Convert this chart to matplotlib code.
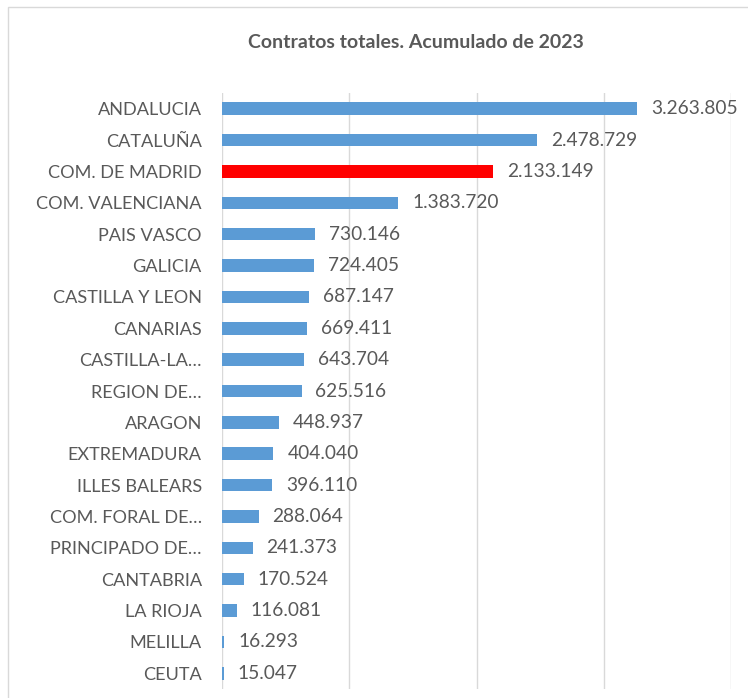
import matplotlib
matplotlib.use("Agg")
import matplotlib.pyplot as plt
from matplotlib.patches import Rectangle

regions = ["ANDALUCIA", "CATALUÑA", "COM. DE MADRID", "COM. VALENCIANA", "PAIS VASCO",
           "GALICIA", "CASTILLA Y LEON", "CANARIAS", "CASTILLA-LA…", "REGION DE…",
           "ARAGON", "EXTREMADURA", "ILLES BALEARS", "COM. FORAL DE…", "PRINCIPADO DE…",
           "CANTABRIA", "LA RIOJA", "MELILLA", "CEUTA"]
contracts = [3263805, 2478729, 2133149, 1383720, 730146, 724405, 687147, 669411, 643704,
             625516, 448937, 404040, 396110, 288064, 241373, 170524, 116081, 16293, 15047]
highlight = "COM. DE MADRID"
title = "Contratos totales. Acumulado de 2023"

plt.rcParams['font.family'] = ['Lato', 'DejaVu Sans']
TXT = "#595959"
W, H = 748, 698
fig = plt.figure(figsize=(W/100, H/100), dpi=100)
fig.patch.set_facecolor("white")
fig.patches.append(Rectangle((8/W, -0.1), 1.2, 1 - 7/H + 0.1, transform=fig.transFigure,
                             fill=False, edgecolor="#d9d9d9", linewidth=1))

ax = fig.add_axes([222/W, 1 - 689/H, (731-222)/W, (689-93)/H])
n = len(regions)
ypos = list(range(n))
colors = ["#ff0000" if r == highlight else "#5b9bd5" for r in regions]
ax.barh(ypos, contracts, height=0.4, color=colors, zorder=3)
ax.set_ylim(n - 0.5, -0.5)
ax.set_xlim(0, 4000000)
ax.set_xticks([0, 1000000, 2000000, 3000000, 4000000])
ax.set_xticklabels([])
ax.tick_params(axis='x', length=0)
ax.tick_params(axis='y', length=0, pad=14.5, labelsize=13.1, labelcolor=TXT)
ax.set_yticks(ypos)
ax.set_yticklabels(regions)
ax.grid(axis='x', color="#d9d9d9", linewidth=1, zorder=0)
for s in ax.spines.values():
    s.set_visible(False)

def fmt(v):
    return f"{v:,}".replace(",", ".")

for y, v in zip(ypos, contracts):
    ax.annotate(fmt(v), (v, y), xytext=(10, 0), textcoords="offset points",
                va="center", ha="left", fontsize=13.8, color=TXT)

fig.text(416/W, 1 - 42/H, title, ha="center", va="center", fontsize=14,
         fontweight="bold", color=TXT)

fig.savefig("out.png", dpi=100)
